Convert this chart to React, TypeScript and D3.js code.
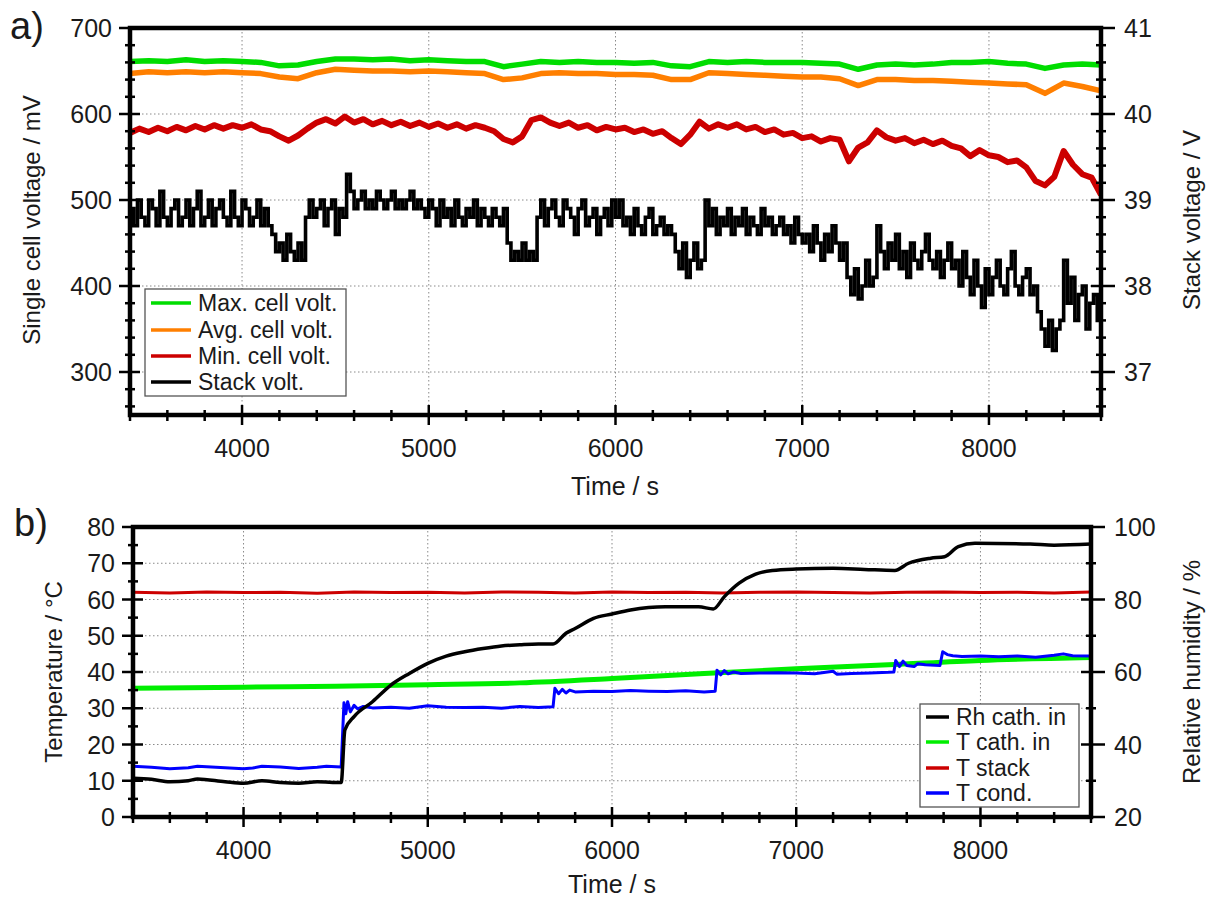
import React from 'react';
import * as d3 from 'd3';

const W = 1211, H = 899;
const FONT = '"Liberation Sans", Arial, Helvetica, sans-serif';
const INK = '#1a1a1a';

// tick values
const timeMajor = [4000, 5000, 6000, 7000, 8000];
const cellMajor = [300, 400, 500, 600, 700];
const stackMajor = [37, 38, 39, 40, 41];
const tempMajor = [0, 10, 20, 30, 40, 50, 60, 70, 80];
const rhMajor = [20, 40, 60, 80, 100];

// ---- a) cell / stack voltage, sampled from t = 3400 s ----
const tStart = 3400;
const maxCellStep = 100; // mV
const maxCell = [
  661, 662, 661, 663, 661, 662, 661, 660, 656, 657,
  661, 664, 664, 663, 664, 662, 663, 662, 661, 661,
  655, 658, 661, 660, 661, 660, 660, 659, 660, 656,
  655, 661, 660, 661, 660, 660, 660, 659, 658, 652,
  657, 658, 657, 658, 660, 660, 661, 659, 658, 653,
  657, 658, 657,
];
const avgCell = [
  647, 649, 648, 649, 648, 649, 648, 647, 643, 641,
  648, 652, 651, 650, 650, 649, 650, 649, 648, 647,
  640, 642, 647, 648, 647, 647, 646, 646, 645, 640,
  640, 648, 647, 646, 645, 644, 643, 643, 641, 633,
  640, 640, 639, 639, 638, 637, 636, 635, 634, 624,
  636, 632, 627,
];
const minCellStep = 50; // mV
const minCell = [
  578, 583, 579, 584, 580, 585, 581, 586, 582, 587,
  583, 587, 584, 588, 582, 580, 574, 569, 575, 583,
  590, 594, 589, 597, 590, 594, 588, 592, 587, 591,
  586, 590, 585, 589, 584, 588, 583, 587, 584, 580,
  571, 567, 574, 593, 596, 590, 586, 590, 584, 587,
  581, 585, 582, 584, 579, 582, 577, 580, 572, 565,
  576, 591, 583, 588, 584, 588, 582, 585, 579, 582,
  576, 578, 572, 574, 568, 572, 570, 545, 561, 567,
  581, 573, 569, 572, 566, 570, 565, 569, 563, 560,
  551, 558, 552, 550, 544, 546, 538, 522, 517, 527,
  557, 541, 530, 526, 506,
];
const stackStep = 20; // V
const stackVolt = [
  // 3400-4140
  38.9, 38.7, 39.0, 38.8, 38.7, 39.0, 38.9, 38.7, 39.1, 38.8,
  38.7, 38.9, 39.0, 38.7, 38.8, 39.0, 38.7, 38.9, 39.1, 38.7,
  38.8, 39.0, 38.7, 38.9, 39.0, 38.8, 38.7, 39.1, 38.8, 38.7,
  39.0, 38.9, 38.7, 38.8, 39.0, 38.7, 38.9, 38.7,
  // 4160-4320
  38.6, 38.4, 38.5, 38.3, 38.6, 38.4, 38.3, 38.5, 38.3,
  // 4340-4540
  38.8, 39.0, 38.8, 38.9, 39.0, 38.7, 38.9, 39.0, 38.6, 38.9, 38.8,
  39.3,
  // 4580-5400
  39.1, 38.9, 39.0, 39.1, 38.9, 39.0, 38.9, 39.1, 39.0, 38.9,
  39.0, 39.1, 38.9, 39.0, 38.9, 39.0, 39.1, 38.9, 39.0, 38.9,
  38.8, 39.0, 38.9, 38.7, 39.0, 38.8, 38.9, 38.7, 39.0, 38.8,
  38.7, 38.9, 38.8, 39.0, 38.7, 38.9, 38.8, 38.7, 38.9, 38.8,
  38.7, 38.9,
  // 5420-5560
  38.5, 38.3, 38.4, 38.3, 38.5, 38.3, 38.4, 38.3,
  // 5580-6000
  38.8, 39.0, 38.7, 38.9, 39.0, 38.8, 38.7, 39.0, 38.9, 38.8,
  38.6, 38.9, 39.0, 38.7, 38.8, 38.9, 38.6, 38.8, 38.9, 38.7, 39.0, 38.8,
  // 6020-6300
  39.0, 38.7, 38.8, 38.6, 38.9, 38.7, 38.6, 38.8, 38.9, 38.6, 38.7, 38.8, 38.6, 38.7, 38.6,
  // 6320-6460
  38.4, 38.2, 38.5, 38.1, 38.3, 38.5, 38.2, 38.3,
  39.0,
  // 6500-7000
  38.7, 38.9, 38.6, 38.8, 38.7, 38.9, 38.6, 38.8, 38.7, 38.9,
  38.6, 38.8, 38.7, 38.6, 38.9, 38.7, 38.8, 38.6, 38.7, 38.8,
  38.6, 38.7, 38.5, 38.8, 38.6, 38.5,
  // 7020-7220
  38.6, 38.4, 38.7, 38.5, 38.3, 38.6, 38.4, 38.7, 38.5, 38.3, 38.5,
  // 7240-7380
  38.1, 37.9, 38.2, 37.85, 38.0, 38.3, 38.0, 38.1,
  38.7,
  // 7420-7800
  38.4, 38.2, 38.5, 38.3, 38.6, 38.2, 38.4, 38.1, 38.5, 38.3,
  38.2, 38.4, 38.6, 38.3, 38.2, 38.4, 38.1, 38.3, 38.5, 38.2,
  // 7820-8240
  38.3, 38.0, 38.4, 38.1, 37.9, 38.3, 38.0, 37.75, 38.2, 37.9,
  38.1, 38.3, 38.0, 37.9, 38.2, 38.4, 38.0, 37.9, 38.1, 38.2, 37.9, 38.0,
  // 8260-8380
  37.7, 37.5, 37.3, 37.6, 37.25, 37.5, 37.6,
  38.3,
  // 8420-8600
  37.8, 38.1, 37.6, 37.9, 38.0, 37.5, 37.8, 37.9, 37.6, 37.25,
];

// ---- b) temperatures and humidity ----
const tStackStep = 200; // °C
const tStack = [
  62.0, 61.8, 62.1, 61.9, 62.0, 61.7, 62.1, 61.9, 62.0, 61.8,
  62.1, 62.0, 61.8, 62.1, 61.9, 62.0, 61.8, 62.0, 62.1, 61.9,
  61.8, 62.0, 62.1, 61.9, 62.0, 61.8, 62.1,
];
const tCathTime = [3400, 4000, 4500, 5000, 5500, 6000, 6500, 7000, 7500, 8000, 8600];
const tCath = [35.5, 35.8, 36.1, 36.5, 37.0, 38.2, 39.6, 40.9, 42.0, 43.2, 44.0];
const tCondTime = [
  3400, 3500, 3600, 3700, 3750, 3850, 4000, 4050, 4100, 4200, 4300, 4400, 4450, 4530,
  4545, 4555, 4565, 4580, 4600, 4620, 4650, 4700, 4800, 4900, 5000, 5100, 5200, 5300,
  5400, 5500, 5600, 5680, 5690, 5710, 5730, 5750, 5770, 5800, 5900, 6000, 6100, 6200,
  6300, 6400, 6500, 6560, 6570, 6590, 6610, 6630, 6660, 6700, 6800, 6900, 7000, 7100,
  7200, 7220, 7300, 7400, 7500, 7530, 7540, 7560, 7580, 7600, 7640, 7660, 7700, 7780,
  7795, 7820, 7850, 7900, 8000, 8100, 8200, 8300, 8400, 8450, 8500, 8600,
];
const tCond = [
  14.0, 13.7, 13.3, 13.6, 14.0, 13.7, 13.3, 13.5, 14.0, 13.8, 13.4, 13.7, 14.0, 13.8,
  31.5, 28.5, 31.8, 29.0, 30.8, 29.8, 30.5, 30.1, 30.3, 30.0, 30.7, 30.3, 30.2, 30.3,
  30.0, 30.5, 30.2, 30.4, 35.5, 34.0, 35.2, 34.2, 35.0, 34.5, 34.7, 34.6, 34.9, 34.7,
  34.6, 34.8, 34.5, 34.7, 40.5, 39.2, 40.4, 39.5, 40.0, 39.6, 39.7, 39.8, 39.7, 39.5,
  40.2, 39.4, 39.6, 39.7, 39.9, 40.0, 43.2, 41.5, 43.0, 41.8, 41.5, 42.3, 42.0, 41.8,
  45.6, 44.8, 44.5, 44.3, 44.4, 44.2, 44.4, 44.1, 44.6, 45.0, 44.5, 44.4,
];
const rhTime = [
  3400, 3500, 3600, 3700, 3750, 3900, 4000, 4100, 4200, 4300, 4400, 4530,
  4550, 4600, 4700, 4800, 4900, 5000, 5100, 5200, 5300, 5400, 5500, 5600, 5680,
  5750, 5800, 5900, 6000, 6100, 6290, 6470, 6550, 6610, 6690, 6780, 6870, 7000,
  7200, 7370, 7535, 7610, 7730, 7805, 7880, 7970, 8270, 8400, 8600,
];
const rhCath = [
  30.7, 30.4, 29.7, 30.0, 30.5, 29.7, 29.3, 30.0, 29.5, 29.3, 29.7, 29.5,
  44.0, 47.7, 51.8, 56.4, 59.6, 62.4, 64.4, 65.6, 66.5, 67.2, 67.5, 67.7, 67.7,
  70.7, 72.0, 74.8, 76.0, 77.1, 78.0, 78.0, 77.4, 80.8, 84.5, 87.0, 88.0, 88.4,
  88.6, 88.3, 88.0, 90.0, 91.4, 91.8, 94.6, 95.5, 95.3, 95.0, 95.3,
];

const legendA = [
  { name: 'Max. cell volt.', color: '#00dd00' },
  { name: 'Avg. cell volt.', color: '#ff7f00' },
  { name: 'Min. cell volt.', color: '#cc0000' },
  { name: 'Stack volt.', color: '#000000' },
];
const legendB = [
  { name: 'Rh cath. in', color: '#000000' },
  { name: 'T cath. in', color: '#00ee00' },
  { name: 'T stack', color: '#cc0000' },
  { name: 'T cond.', color: '#0000ff' },
];

const evenTimes = (n: number, step: number) => d3.range(n).map(i => tStart + i * step);
const pairs = (ts: number[], vs: number[]) => vs.map((v, i) => [ts[i], v] as [number, number]);

// scales
const xA = d3.scaleLinear().domain([3400, 8600]).range([130, 1101]);
const yA = d3.scaleLinear().domain([250, 700]).range([415, 28]);
const yA2 = d3.scaleLinear().domain([36.5, 41]).range([415, 28]);
const xB = d3.scaleLinear().domain([3400, 8600]).range([133, 1091]);
const yB = d3.scaleLinear().domain([0, 80]).range([817, 527]);
const yB2 = d3.scaleLinear().domain([20, 100]).range([817, 527]);

function Grid({ x, y, xMaj, yMaj }) {
  const [x0, x1] = x.range();
  const [yb, yt] = y.range();
  const st = { stroke: '#8a8a8a', strokeWidth: 1, strokeDasharray: '1.5 2.5' };
  return (
    <g>
      {xMaj.map(v => <line key={'gx' + v} x1={x(v)} x2={x(v)} y1={yt} y2={yb} {...st} />)}
      {yMaj.filter(v => y(v) > yt + 2 && y(v) < yb - 2).map(v =>
        <line key={'gy' + v} x1={x0} x2={x1} y1={y(v)} y2={y(v)} {...st} />)}
    </g>
  );
}

function Frame({ x, yl, yr, xMaj, xMinStep, ylMaj, ylMinStep, yrMaj, yrMinStep }) {
  const [x0, x1] = x.range();
  const [yb, yt] = yl.range();
  const [xa, xb] = x.domain();
  const xMin = d3.range(xa, xb + 1, xMinStep).filter(v => !xMaj.includes(v));
  const [la, lb] = yl.domain();
  const ylMin = d3.range(Math.ceil(la / ylMinStep) * ylMinStep, lb + 1e-6, ylMinStep).filter(v => !ylMaj.includes(v));
  const [ra, rb] = yr.domain();
  const yrMin = d3.range(Math.ceil(ra / yrMinStep - 1e-6) * yrMinStep, rb + 1e-6, yrMinStep)
    .map(v => +v.toFixed(2)).filter(v => !yrMaj.includes(v));
  const tk = { stroke: '#000', strokeWidth: 2.5 };
  const txt = { fontFamily: FONT, fontSize: 25, fill: INK };
  return (
    <g>
      <rect x={x0} y={yt} width={x1 - x0} height={yb - yt} fill="none" stroke="#000" strokeWidth={4.5} />
      {xMaj.map(v => <line key={'xM' + v} x1={x(v)} x2={x(v)} y1={yb - 10} y2={yb + 10} {...tk} />)}
      {xMin.map(v => <line key={'xm' + v} x1={x(v)} x2={x(v)} y1={yb - 5} y2={yb + 6} {...tk} />)}
      {ylMaj.map(v => <line key={'lM' + v} x1={x0 - 11} x2={x0 + 10} y1={yl(v)} y2={yl(v)} {...tk} />)}
      {ylMin.map(v => <line key={'lm' + v} x1={x0 - 5} x2={x0 + 5} y1={yl(v)} y2={yl(v)} {...tk} />)}
      {yrMaj.map(v => <line key={'rM' + v} x1={x1 - 10} x2={x1 + 14} y1={yr(v)} y2={yr(v)} {...tk} />)}
      {yrMin.map(v => <line key={'rm' + v} x1={x1 - 5} x2={x1 + 5} y1={yr(v)} y2={yr(v)} {...tk} />)}
      {xMaj.map(v => <text key={'xl' + v} x={x(v)} y={yb + 42} textAnchor="middle" {...txt}>{v}</text>)}
      {ylMaj.map(v => <text key={'ll' + v} x={x0 - 18} y={yl(v) + 9} textAnchor="end" {...txt}>{v}</text>)}
      {yrMaj.map(v => <text key={'rl' + v} x={x1 + 23} y={yr(v) + 9} textAnchor="start" {...txt}>{v}</text>)}
    </g>
  );
}

function Legend({ items, x, y, w, h, rowY, sw }) {
  return (
    <g>
      <rect x={x} y={y} width={w} height={h} fill="#fff" stroke="#555" strokeWidth={1.3} />
      {items.map((d, i) => (
        <g key={d.name}>
          <line x1={x + 6} x2={x + 6 + sw} y1={rowY[i]} y2={rowY[i]} stroke={d.color} strokeWidth={3.5} />
          <text x={x + sw + 13} y={rowY[i] + 8} fontFamily={FONT} fontSize={23} fill={INK}>{d.name}</text>
        </g>
      ))}
    </g>
  );
}

export default function App() {
  const lineA = d3.line<[number, number]>().x(d => xA(d[0])).y(d => yA(d[1]));
  const stepA = d3.line<[number, number]>().x(d => xA(d[0])).y(d => yA2(d[1])).curve(d3.curveStepAfter);
  const lineB = d3.line<[number, number]>().x(d => xB(d[0])).y(d => yB(d[1]));
  const smoothB = d3.line<[number, number]>().x(d => xB(d[0])).y(d => yB(d[1])).curve(d3.curveMonotoneX);
  const rhB = d3.line<[number, number]>().x(d => xB(d[0])).y(d => yB2(d[1])).curve(d3.curveMonotoneX);

  const maxPts = pairs(evenTimes(maxCell.length, maxCellStep), maxCell);
  const avgPts = pairs(evenTimes(avgCell.length, maxCellStep), avgCell);
  const minPts = pairs(evenTimes(minCell.length, minCellStep), minCell);
  const stackPts = pairs(evenTimes(stackVolt.length, stackStep), stackVolt);
  const tStackPts = pairs(evenTimes(tStack.length, tStackStep), tStack);

  return (
    <svg width={W} height={H} style={{ position: 'absolute', left: 0, top: 0, background: '#fff' }}>
      <defs>
        <clipPath id="clipA"><rect x={130} y={28} width={971} height={387} /></clipPath>
        <clipPath id="clipB"><rect x={133} y={527} width={958} height={290} /></clipPath>
      </defs>

      {/* a) */}
      <Grid x={xA} y={yA} xMaj={timeMajor} yMaj={cellMajor} />
      <g clipPath="url(#clipA)" fill="none" strokeLinejoin="miter">
        <path d={stepA(stackPts)} stroke="#000" strokeWidth={3.6} />
        <path d={lineA(minPts)} stroke="#cc0000" strokeWidth={6} strokeLinejoin="round" />
        <path d={lineA(avgPts)} stroke="#ff7f00" strokeWidth={5.5} strokeLinejoin="round" />
        <path d={lineA(maxPts)} stroke="#00dd00" strokeWidth={5.5} strokeLinejoin="round" />
      </g>
      <Frame x={xA} yl={yA} yr={yA2} xMaj={timeMajor} xMinStep={200}
        ylMaj={cellMajor} ylMinStep={20} yrMaj={stackMajor} yrMinStep={0.2} />
      <Legend items={legendA} x={145} y={289} w={201} h={107} rowY={[303, 330, 356, 382]} sw={40} />
      <text x={10} y={39} fontFamily={FONT} fontSize={38} fill={INK}>a)</text>
      <text transform="translate(40,220) rotate(-90)" textAnchor="middle" fontFamily={FONT} fontSize={24} fill={INK}>Single cell voltage / mV</text>
      <text transform="translate(1200,220) rotate(-90)" textAnchor="middle" fontFamily={FONT} fontSize={24} fill={INK}>Stack voltage / V</text>
      <text x={615} y={495} textAnchor="middle" fontFamily={FONT} fontSize={25} fill={INK}>Time / s</text>

      {/* b) */}
      <Grid x={xB} y={yB} xMaj={timeMajor} yMaj={tempMajor} />
      <g clipPath="url(#clipB)" fill="none" strokeLinejoin="round">
        <path d={lineB(tStackPts)} stroke="#cc0000" strokeWidth={3} />
        <path d={smoothB(pairs(tCathTime, tCath))} stroke="#00ee00" strokeWidth={5} />
        <path d={lineB(pairs(tCondTime, tCond))} stroke="#0000ff" strokeWidth={3} />
        <path d={rhB(pairs(rhTime, rhCath))} stroke="#000" strokeWidth={3.5} />
      </g>
      <Frame x={xB} yl={yB} yr={yB2} xMaj={timeMajor} xMinStep={200}
        ylMaj={tempMajor} ylMinStep={5} yrMaj={rhMajor} yrMinStep={10} />
      <Legend items={legendB} x={920} y={704} w={159} h={103} rowY={[717, 742, 768, 793]} sw={23} />
      <text x={14} y={536} fontFamily={FONT} fontSize={38} fill={INK}>b)</text>
      <text transform="translate(62,672) rotate(-90)" textAnchor="middle" fontFamily={FONT} fontSize={24} fill={INK}>Temperature / °C</text>
      <text transform="translate(1200,672) rotate(-90)" textAnchor="middle" fontFamily={FONT} fontSize={24} fill={INK}>Relative humidity / %</text>
      <text x={612} y={893} textAnchor="middle" fontFamily={FONT} fontSize={25} fill={INK}>Time / s</text>
    </svg>
  );
}
